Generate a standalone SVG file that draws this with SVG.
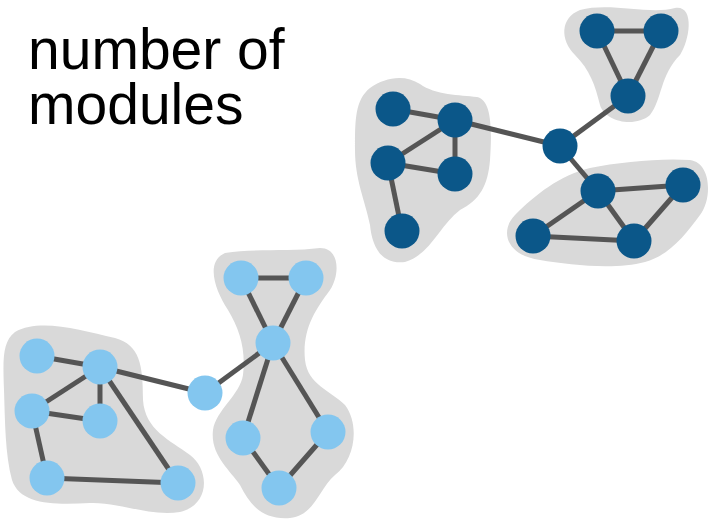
<svg xmlns="http://www.w3.org/2000/svg" width="711" height="522" viewBox="0 0 711 522">
<style>
.blob{fill:#d9d9d9;stroke:none}
.e{stroke:#555;stroke-width:5;fill:none}
.dk{fill:#0b5789}
.lt{fill:#83c6ef}
.t{font-family:"Liberation Sans",Arial,sans-serif;font-size:57px;fill:#000}
</style>
<rect width="711" height="522" fill="#fff"/>
<g id="modules">
<path id="blob1" class="blob" d="M580,10 C610,2 650,15 675,8 C695,5 690,40 680,55 C660,75 662,100 650,115 C635,128 605,122 600,105 C595,85 590,70 575,55 C560,40 560,18 580,10 Z"/>
<path id="blob2" class="blob" d="M370,88 C385,77 405,74 420,84 C435,95 460,95 477,97 C492,100 492,130 490,160 C488,185 480,200 460,210 C440,225 430,255 405,262 C380,265 372,245 370,225 C365,200 355,180 355,150 C355,120 355,100 370,88 Z"/>
<path id="blob3" class="blob" d="M515,215 C535,195 560,175 590,168 C620,162 660,158 690,160 C712,163 712,200 700,215 C685,235 670,255 645,262 C615,270 570,265 540,260 C505,255 500,230 515,215 Z"/>
<path id="blob4" class="blob" d="M15,332 C40,318 80,330 115,338 C140,345 143,365 143,400 C145,430 170,440 190,455 C210,470 210,505 180,512 C150,517 120,502 90,503 C55,505 20,505 12,480 C5,455 5,420 4,390 C3,360 2,342 15,332 Z"/>
<path id="blob5" class="blob" d="M225,253 C255,248 290,252 320,248 C340,248 340,275 330,290 C315,310 302,330 305,360 C308,385 330,390 345,405 C360,425 355,460 335,475 C318,490 315,515 290,518 C262,520 250,505 240,485 C230,470 210,455 213,430 C216,410 240,395 243,375 C246,350 240,330 228,310 C215,290 205,262 225,253 Z"/>
</g>
<g id="connectors">
<line class="e" x1="597" y1="31" x2="661" y2="31"/>
<line class="e" x1="597" y1="31" x2="628" y2="96"/>
<line class="e" x1="661" y1="31" x2="628" y2="96"/>
<line class="e" x1="628" y1="96" x2="560" y2="146"/>
<line class="e" x1="560" y1="146" x2="455" y2="120"/>
<line class="e" x1="393" y1="109" x2="455" y2="120"/>
<line class="e" x1="455" y1="120" x2="388" y2="163"/>
<line class="e" x1="455" y1="120" x2="455" y2="174"/>
<line class="e" x1="388" y1="163" x2="455" y2="174"/>
<line class="e" x1="388" y1="163" x2="402" y2="231"/>
<line class="e" x1="560" y1="146" x2="598" y2="191"/>
<line class="e" x1="598" y1="191" x2="683" y2="185"/>
<line class="e" x1="598" y1="191" x2="533" y2="236"/>
<line class="e" x1="598" y1="191" x2="634" y2="241"/>
<line class="e" x1="683" y1="185" x2="634" y2="241"/>
<line class="e" x1="533" y1="236" x2="634" y2="241"/>
<line class="e" x1="241" y1="278" x2="306" y2="278"/>
<line class="e" x1="241" y1="278" x2="273" y2="343"/>
<line class="e" x1="306" y1="278" x2="273" y2="343"/>
<line class="e" x1="273" y1="343" x2="205" y2="393"/>
<line class="e" x1="205" y1="393" x2="100" y2="367"/>
<line class="e" x1="37" y1="356" x2="100" y2="367"/>
<line class="e" x1="100" y1="367" x2="32" y2="411"/>
<line class="e" x1="100" y1="367" x2="100" y2="421"/>
<line class="e" x1="32" y1="411" x2="100" y2="421"/>
<line class="e" x1="32" y1="411" x2="47" y2="478"/>
<line class="e" x1="47" y1="478" x2="178" y2="483"/>
<line class="e" x1="100" y1="367" x2="178" y2="483"/>
<line class="e" x1="273" y1="343" x2="243" y2="438"/>
<line class="e" x1="273" y1="343" x2="328" y2="432"/>
<line class="e" x1="243" y1="438" x2="279" y2="488"/>
<line class="e" x1="328" y1="432" x2="279" y2="488"/>
</g>
<g id="n-a1"><circle class="dk" cx="597" cy="31" r="17.5"/></g>
<g id="n-a2"><circle class="dk" cx="661" cy="31" r="17.5"/></g>
<g id="n-a3"><circle class="dk" cx="628" cy="96" r="17.5"/></g>
<g id="n-h"><circle class="dk" cx="560" cy="146" r="17.5"/></g>
<g id="n-b1"><circle class="dk" cx="393" cy="109" r="17.5"/></g>
<g id="n-b2"><circle class="dk" cx="455" cy="120" r="17.5"/></g>
<g id="n-b3"><circle class="dk" cx="388" cy="163" r="17.5"/></g>
<g id="n-b4"><circle class="dk" cx="455" cy="174" r="17.5"/></g>
<g id="n-b5"><circle class="dk" cx="402" cy="231" r="17.5"/></g>
<g id="n-c1"><circle class="dk" cx="598" cy="191" r="17.5"/></g>
<g id="n-c2"><circle class="dk" cx="683" cy="185" r="17.5"/></g>
<g id="n-c3"><circle class="dk" cx="533" cy="236" r="17.5"/></g>
<g id="n-c4"><circle class="dk" cx="634" cy="241" r="17.5"/></g>
<g id="n-d1"><circle class="lt" cx="241" cy="278" r="17.5"/></g>
<g id="n-d2"><circle class="lt" cx="306" cy="278" r="17.5"/></g>
<g id="n-d3"><circle class="lt" cx="273" cy="343" r="17.5"/></g>
<g id="n-e"><circle class="lt" cx="205" cy="393" r="17.5"/></g>
<g id="n-f1"><circle class="lt" cx="37" cy="356" r="17.5"/></g>
<g id="n-f2"><circle class="lt" cx="100" cy="367" r="17.5"/></g>
<g id="n-f3"><circle class="lt" cx="32" cy="411" r="17.5"/></g>
<g id="n-f4"><circle class="lt" cx="100" cy="421" r="17.5"/></g>
<g id="n-f5"><circle class="lt" cx="47" cy="478" r="17.5"/></g>
<g id="n-f6"><circle class="lt" cx="178" cy="483" r="17.5"/></g>
<g id="n-g1"><circle class="lt" cx="243" cy="438" r="17.5"/></g>
<g id="n-g2"><circle class="lt" cx="328" cy="432" r="17.5"/></g>
<g id="n-g3"><circle class="lt" cx="279" cy="488" r="17.5"/></g>
<g id="label">
<text class="t" x="28" y="69">number of<tspan x="28" y="124">modules</tspan></text>
</g>
</svg>
